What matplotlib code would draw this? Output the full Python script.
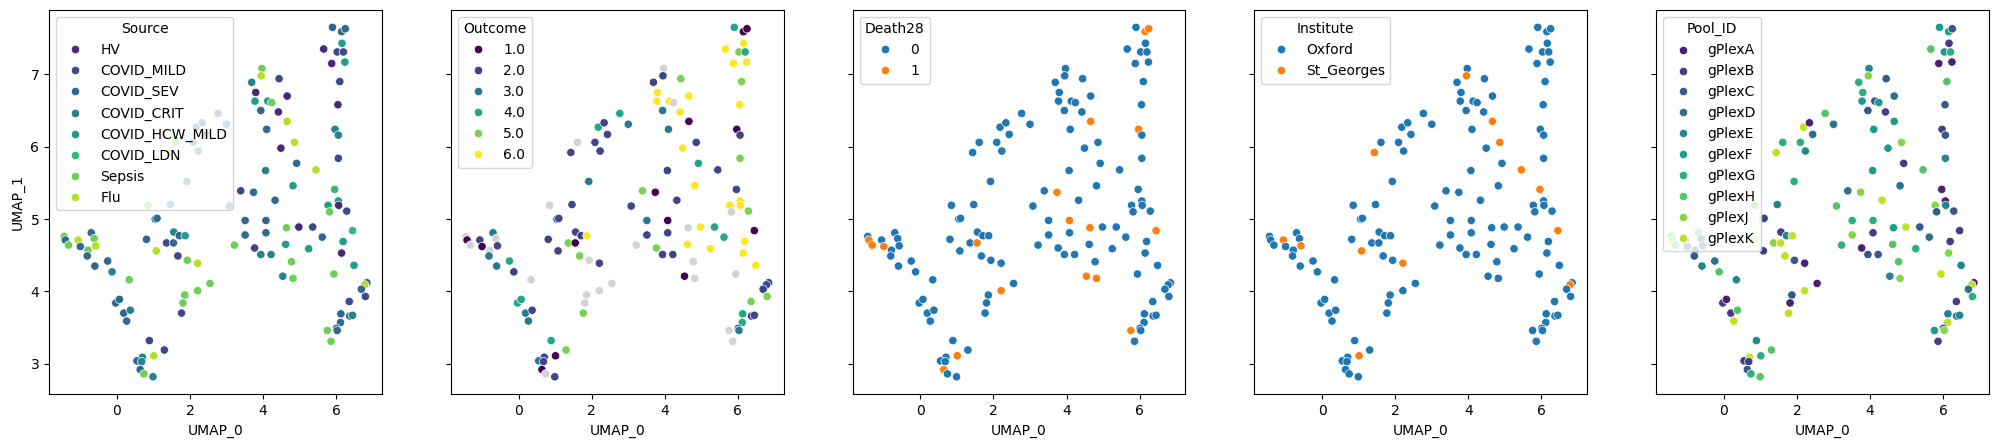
import numpy as np
import matplotlib
matplotlib.use("Agg")
import matplotlib.pyplot as plt
from matplotlib.lines import Line2D
import seaborn as sns

# ---------------- data ----------------
umap0 = [
    2.77, 2.18, 2.34, 2.43, 1.61, 1.43, 2.09, 2.23, 1.92, 0.85,
    1.46, 1.05, 1.10, -1.44, -1.41, -1.32, -1.06, -1.00, -0.70, -0.62,
    -0.58, -0.79, -0.81, -0.60, -0.25, -0.13, 0.34, 0.81, 1.08, 1.36,
    1.55, 1.56, 1.71, 1.87, 1.67, 1.93, 2.21, 2.55, 2.21, 1.86,
    1.81, 1.77, -0.03, 0.07, 0.19, 0.37, 0.27, 0.89, 1.30, 1.01,
    0.70, 0.55, 0.68, 0.64, 0.74, 0.99,
    5.90, 6.15, 6.25, 6.16, 5.66, 6.03, 6.20, 5.88, 6.24, 6.10,
    6.05, 5.97, 6.06, 6.06, 3.97, 3.95, 3.69, 4.44, 3.80, 3.78,
    4.13, 4.24, 4.66, 3.94, 4.42, 4.66, 4.10, 3.00, 4.49,
    4.86, 4.92, 4.07, 5.45, 4.82, 3.39, 3.74, 4.33, 3.08, 3.51,
    4.08, 3.51, 4.08, 4.64, 4.98, 5.36, 3.22, 3.77, 3.94, 4.22,
    4.62, 5.25, 5.62, 4.78, 4.54, 4.82, 5.96, 6.06, 5.78, 6.07,
    5.82, 6.29, 6.45, 6.19, 6.15, 6.49, 5.94, 6.84, 6.78, 6.69,
    6.80, 6.36, 6.13, 6.37, 6.45, 6.12, 6.01, 5.76, 6.03, 5.86,
]
umap1 = [
    6.46, 6.27, 6.33, 6.17, 6.06, 5.92, 6.06, 5.94, 5.52, 5.19,
    5.20, 5.00, 5.01, 4.76, 4.71, 4.64, 4.71, 4.62, 4.81, 4.73,
    4.63, 4.57, 4.49, 4.35, 4.42, 4.27, 4.16, 4.72, 4.56, 4.67,
    4.67, 4.82, 4.77, 4.77, 4.49, 4.43, 4.39, 4.11, 4.01, 3.95,
    3.84, 3.70, 3.84, 3.89, 3.70, 3.74, 3.59, 3.32, 3.19, 3.11,
    3.09, 3.04, 3.03, 2.92, 2.86, 2.82,
    7.65, 7.59, 7.63, 7.43, 7.35, 7.31, 7.31, 7.15, 7.17, 6.90,
    6.58, 6.24, 6.16, 5.84, 7.08, 6.98, 6.89, 6.94, 6.75, 6.63,
    6.63, 6.61, 6.70, 6.50, 6.48, 6.35, 6.24, 6.31, 5.98,
    6.06, 5.77, 5.67, 5.68, 5.46, 5.39, 5.37, 5.26, 5.18, 4.98,
    4.98, 4.78, 4.81, 4.88, 4.89, 4.89, 4.64, 4.60, 4.51, 4.51,
    4.65, 4.59, 4.75, 4.41, 4.21, 4.18, 5.41, 5.25, 5.19, 5.19,
    5.10, 5.11, 4.84, 4.69, 4.53, 4.36, 4.24, 4.12, 4.09, 4.03,
    3.93, 3.86, 3.69, 3.66, 3.67, 3.57, 3.49, 3.46, 3.46, 3.31,
]

source_levels = ["HV", "COVID_MILD", "COVID_SEV", "COVID_CRIT",
                 "COVID_HCW_MILD", "COVID_LDN", "Sepsis", "Flu"]
source = [
    "COVID_MILD", "COVID_SEV", "COVID_MILD", "COVID_SEV", "Sepsis", "Flu", "COVID_SEV", "COVID_SEV", "COVID_SEV", "Sepsis",
    "COVID_CRIT", "COVID_SEV", "COVID_SEV", "Sepsis", "COVID_SEV", "Sepsis", "Flu", "COVID_SEV", "COVID_SEV", "Sepsis",
    "Flu", "Sepsis", "COVID_SEV", "COVID_SEV", "COVID_SEV", "COVID_CRIT", "Sepsis", "COVID_SEV", "Flu", "COVID_MILD",
    "COVID_SEV", "COVID_CRIT", "COVID_SEV", "COVID_HCW_MILD", "COVID_MILD", "Sepsis", "Flu", "Sepsis", "Sepsis", "Sepsis",
    "Sepsis", "COVID_MILD", "COVID_SEV", "COVID_SEV", "COVID_SEV", "COVID_CRIT", "COVID_SEV", "COVID_MILD", "COVID_MILD", "Flu",
    "COVID_CRIT", "COVID_SEV", "COVID_CRIT", "COVID_SEV", "Sepsis", "COVID_CRIT",
    "COVID_SEV", "COVID_SEV", "COVID_SEV", "COVID_HCW_MILD", "HV", "COVID_MILD", "COVID_MILD", "HV", "COVID_HCW_MILD", "COVID_MILD",
    "HV", "COVID_CRIT", "COVID_CRIT", "COVID_MILD", "Sepsis", "Flu", "COVID_CRIT", "COVID_MILD", "HV", "COVID_HCW_MILD",
    "COVID_HCW_MILD", "Sepsis", "HV", "COVID_SEV", "HV", "Flu", "COVID_SEV", "COVID_SEV", "HV",
    "Flu", "COVID_SEV", "COVID_CRIT", "Flu", "COVID_HCW_MILD", "COVID_MILD", "COVID_SEV", "COVID_SEV", "COVID_SEV", "COVID_SEV",
    "COVID_SEV", "COVID_SEV", "COVID_SEV", "Sepsis", "HV", "COVID_MILD", "Sepsis", "COVID_MILD", "COVID_CRIT", "COVID_CRIT",
    "COVID_HCW_MILD", "COVID_HCW_MILD", "COVID_SEV", "Sepsis", "COVID_CRIT", "Sepsis", "COVID_LDN", "COVID_HCW_MILD", "COVID_HCW_MILD", "HV",
    "Sepsis", "COVID_MILD", "COVID_LDN", "COVID_HCW_MILD", "HV", "COVID_HCW_MILD", "Sepsis", "COVID_SEV", "Flu", "COVID_SEV",
    "COVID_MILD", "COVID_MILD", "COVID_SEV", "COVID_CRIT", "COVID_CRIT", "COVID_SEV", "COVID_SEV", "Sepsis", "COVID_SEV", "Sepsis",
]

nan = np.nan
outcome_levels = [1.0, 2.0, 3.0, 4.0, 5.0, 6.0]
outcome = [
    4, 4, 2, 2, nan, 2, 2, 2, 3, nan,
    2, 2, 2, nan, 1, nan, 2, 1, 3, nan,
    2, nan, 3, 3, 4, 2, nan, 2, 2, 5,
    1, 2, 2, 6, 5, nan, 2, nan, nan, nan,
    nan, 5, 4, 4, 3, 2, 3, 4, 5, 1,
    2, 3, 2, 1, nan, 2,
    4, 1, 1, 6, 6, 5, 4, 6, 6, 5,
    6, 1, 2, 5, nan, 2, 2, 5, 6, 6,
    6, nan, 6, 3, 6, 1, 3, 3, 6,
    2, 4, 2, 2, 6, 5, 1, 2, 2, 3,
    1, 2, 2, nan, 6, 4, nan, 5, 2, 2,
    6, 6, 4, nan, 1, nan, 2, 6, 6, 6,
    nan, 5, 1, 6, 6, 6, nan, 2, 2, 2,
    5, 5, 4, 2, 2, 4, 3, nan, 3, nan,
]

death_levels = [0, 1]
death28 = [
    0, 0, 0, 0, 0, 0, 0, 0, 0, 0,
    0, 0, 0, 0, 1, 1, 0, 1, 0, 0,
    0, 0, 0, 0, 0, 0, 0, 0, 0, 0,
    1, 0, 0, 0, 0, 0, 0, 0, 1, 0,
    0, 0, 0, 0, 0, 0, 0, 0, 0, 1,
    0, 0, 0, 1, 0, 0,
    0, 1, 1, 0, 0, 0, 0, 0, 0, 0,
    0, 1, 0, 0, 0, 0, 0, 0, 0, 0,
    0, 0, 0, 0, 0, 1, 0, 0, 0,
    0, 0, 0, 0, 0, 0, 1, 0, 0, 0,
    1, 0, 0, 1, 0, 0, 0, 0, 0, 0,
    0, 0, 0, 0, 1, 1, 0, 0, 0, 0,
    0, 0, 1, 0, 0, 0, 0, 0, 0, 0,
    0, 0, 0, 0, 0, 0, 0, 1, 0, 0,
]

institute_levels = ["Oxford", "St_Georges"]
institute = [  # index into institute_levels
    0, 0, 0, 0, 0, 1, 0, 0, 0, 0,
    0, 0, 0, 0, 0, 0, 1, 0, 0, 0,
    1, 0, 0, 0, 0, 0, 0, 0, 1, 0,
    0, 0, 0, 0, 0, 0, 1, 0, 0, 0,
    0, 0, 0, 0, 0, 0, 0, 0, 0, 1,
    0, 0, 0, 0, 0, 0,
    0, 0, 0, 0, 0, 0, 0, 0, 0, 0,
    0, 0, 0, 0, 0, 1, 0, 0, 0, 0,
    0, 0, 0, 0, 0, 1, 0, 0, 0,
    1, 0, 0, 1, 0, 0, 0, 0, 0, 0,
    0, 0, 0, 0, 0, 0, 0, 0, 0, 0,
    0, 0, 0, 0, 0, 0, 1, 0, 0, 0,
    0, 0, 1, 0, 0, 0, 0, 0, 1, 0,
    0, 0, 0, 0, 0, 0, 0, 0, 0, 0,
]

pool_levels = ["gPlexA", "gPlexB", "gPlexC", "gPlexD", "gPlexE",
               "gPlexF", "gPlexG", "gPlexH", "gPlexJ", "gPlexK"]
pool_id = [  # letter suffix of gPlex
    "H", "K", "A", "D", "G", "K", "G", "E", "G", "H",
    "E", "J", "B", "H", "J", "H", "C", "C", "H", "C",
    "C", "D", "C", "E", "D", "H", "E", "J", "B", "J",
    "K", "B", "E", "K", "K", "C", "A", "A", "K", "C",
    "A", "K", "B", "A", "B", "H", "K", "E", "H", "G",
    "K", "B", "B", "C", "G", "H",
    "F", "F", "C", "B", "H", "F", "G", "A", "A", "H",
    "C", "B", "C", "E", "E", "J", "G", "C", "G", "F",
    "C", "F", "D", "C", "B", "F", "F", "D", "F",
    "J", "B", "F", "H", "D", "D", "J", "K", "H", "G",
    "G", "J", "B", "F", "K", "C", "G", "A", "C", "C",
    "H", "G", "D", "H", "E", "J", "A", "A", "J", "E",
    "C", "C", "B", "B", "J", "E", "K", "A", "K", "D",
    "G", "B", "E", "D", "E", "K", "C", "F", "J", "B",
]

# ---------------- plotting ----------------
x = np.array(umap0)
y = np.array(umap1)

fig, axes = plt.subplots(1, 5, figsize=(19.95, 4.48), dpi=100, sharey=True)
fig.subplots_adjust(left=0.0246, right=0.997, bottom=0.12, top=0.978, wspace=0.207)

S = 36
LW = 0.48


def legend(ax, colors, labels, title):
    handles = [Line2D([], [], marker="o", ls="", markersize=np.sqrt(S),
                      markerfacecolor=c, markeredgecolor="white",
                      markeredgewidth=LW) for c in colors]
    ax.legend(handles, labels, title=title, loc="upper left")


# Source
pal = sns.color_palette("viridis", len(source_levels))
cols = [pal[source_levels.index(s)] for s in source]
axes[0].scatter(x, y, c=cols, s=S, edgecolors="white", linewidths=LW)
legend(axes[0], pal, source_levels, "Source")

# Outcome (numeric)
cmap = plt.cm.viridis
vmin, vmax = min(outcome_levels), max(outcome_levels)
oc = np.array(outcome, dtype=float)
cols = [cmap((v - vmin) / (vmax - vmin)) if not np.isnan(v) else "lightgrey" for v in oc]
axes[1].scatter(x, y, c=cols, s=S, edgecolors="white", linewidths=LW)
legend(axes[1], [cmap((v - vmin) / (vmax - vmin)) for v in outcome_levels],
       [f"{v:.1f}" for v in outcome_levels], "Outcome")

# Death28
tab = sns.color_palette("tab10")
cols = [tab[death_levels.index(d)] for d in death28]
axes[2].scatter(x, y, c=cols, s=S, edgecolors="white", linewidths=LW)
legend(axes[2], tab[:2], [str(d) for d in death_levels], "Death28")

# Institute
cols = [tab[i] for i in institute]
axes[3].scatter(x, y, c=cols, s=S, edgecolors="white", linewidths=LW)
legend(axes[3], tab[:2], institute_levels, "Institute")

# Pool_ID
pal = sns.color_palette("viridis", len(pool_levels))
cols = [pal[pool_levels.index("gPlex" + p)] for p in pool_id]
axes[4].scatter(x, y, c=cols, s=S, edgecolors="white", linewidths=LW)
legend(axes[4], pal, pool_levels, "Pool_ID")

for ax in axes:
    ax.set_xlabel("UMAP_0")
axes[0].set_ylabel("UMAP_1")

fig.savefig("out.png", dpi=100)
